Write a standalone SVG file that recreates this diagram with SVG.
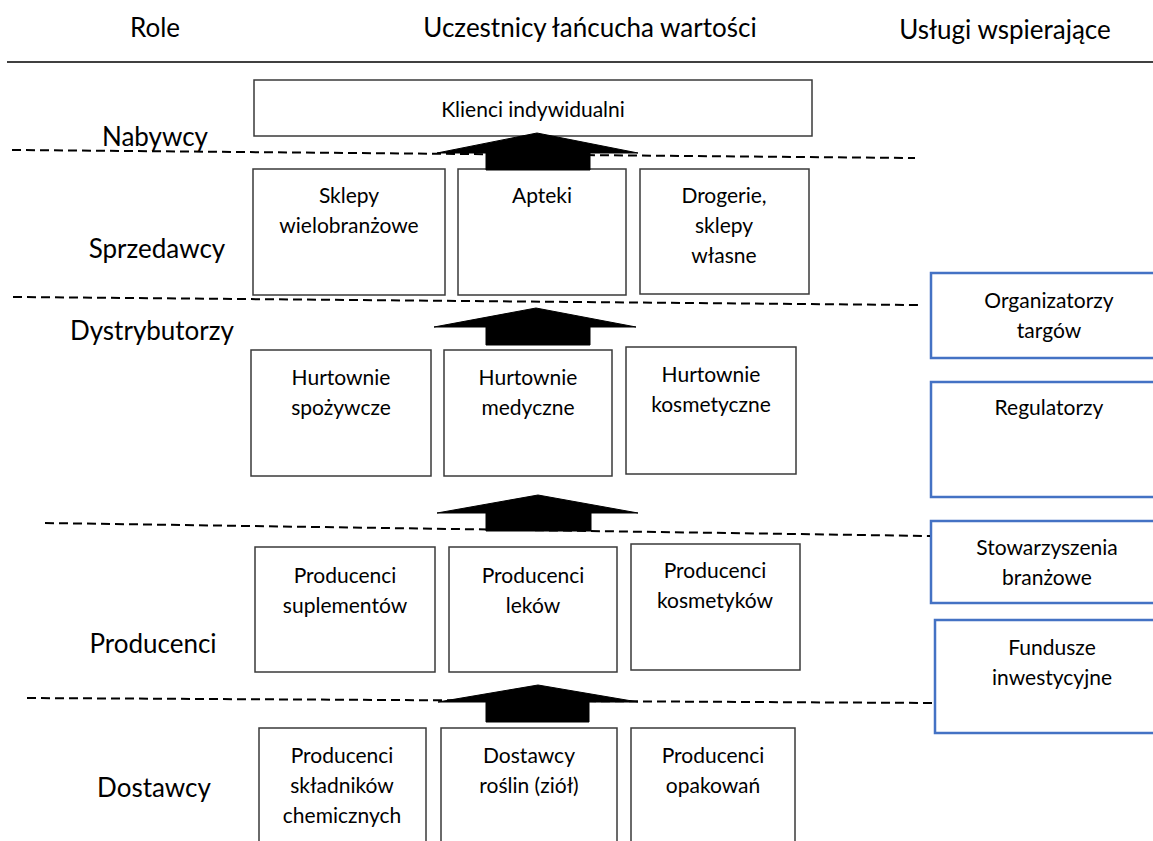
<svg xmlns="http://www.w3.org/2000/svg" width="1153" height="841" viewBox="0 0 1153 841">
<style>
text{font-family:Lato,"Open Sans","Liberation Sans",sans-serif;fill:#000;text-anchor:middle}
.h{font-size:26px}
.r{font-size:26px}
.t{font-size:21px}
.box{fill:#fff;stroke:#3a3a3a;stroke-width:1.5}
.sbox{fill:#fff;stroke:#4472C4;stroke-width:2.5}
.dash{stroke:#000;stroke-width:2;stroke-dasharray:9 5;fill:none}
.arrow{fill:#000;stroke:#000;stroke-width:1}
</style>
<rect width="1153" height="841" fill="#fff"/>
<g id="headers">
<text class="h" x="155" y="37">Role</text>
<text class="h" x="590" y="37">Uczestnicy łańcucha wartości</text>
<text class="h" x="1005" y="39">Usługi wspierające</text>
<line x1="7" y1="62" x2="1153" y2="62" stroke="#000" stroke-width="1.5"/>
</g>
<g id="roles">
<text class="r" x="155" y="146">Nabywcy</text>
<text class="r" x="157" y="258">Sprzedawcy</text>
<text class="r" x="152" y="340">Dystrybutorzy</text>
<text class="r" x="153" y="653">Producenci</text>
<text class="r" x="154" y="797">Dostawcy</text>
</g>
<g id="node-klienci"><rect class="box" x="254" y="80" width="558" height="56"/><text class="t" x="533" y="117">Klienci indywidualni</text></g>
<g id="node-sklepy"><rect class="box" x="253" y="169" width="192" height="126"/><text class="t" x="349" y="203">Sklepy</text><text class="t" x="349" y="233">wielobranżowe</text></g>
<g id="node-apteki"><rect class="box" x="458" y="169" width="168" height="126"/><text class="t" x="542" y="203">Apteki</text></g>
<g id="node-drogerie"><rect class="box" x="640" y="169" width="169" height="125"/><text class="t" x="724" y="203">Drogerie,</text><text class="t" x="724" y="233">sklepy</text><text class="t" x="724" y="263">własne</text></g>
<g id="node-hurt-spoz"><rect class="box" x="251" y="350" width="180" height="126"/><text class="t" x="341" y="385">Hurtownie</text><text class="t" x="341" y="415">spożywcze</text></g>
<g id="node-hurt-med"><rect class="box" x="444" y="350" width="168" height="126"/><text class="t" x="528" y="385">Hurtownie</text><text class="t" x="528" y="415">medyczne</text></g>
<g id="node-hurt-kos"><rect class="box" x="626" y="347" width="170" height="127"/><text class="t" x="711" y="382">Hurtownie</text><text class="t" x="711" y="412">kosmetyczne</text></g>
<g id="node-prod-supl"><rect class="box" x="255" y="547" width="180" height="125"/><text class="t" x="345" y="583">Producenci</text><text class="t" x="345" y="613">suplementów</text></g>
<g id="node-prod-lek"><rect class="box" x="449" y="547" width="168" height="125"/><text class="t" x="533" y="583">Producenci</text><text class="t" x="533" y="613">leków</text></g>
<g id="node-prod-kos"><rect class="box" x="631" y="544" width="169" height="126"/><text class="t" x="715" y="578">Producenci</text><text class="t" x="715" y="608">kosmetyków</text></g>
<g id="node-skladniki"><rect class="box" x="259" y="728" width="167" height="130"/><text class="t" x="342" y="763">Producenci</text><text class="t" x="342" y="793">składników</text><text class="t" x="342" y="823">chemicznych</text></g>
<g id="node-rosliny"><rect class="box" x="441" y="728" width="176" height="130"/><text class="t" x="529" y="763">Dostawcy</text><text class="t" x="529" y="793">roślin (ziół)</text></g>
<g id="node-opakowania"><rect class="box" x="631" y="728" width="164" height="130"/><text class="t" x="713" y="763">Producenci</text><text class="t" x="713" y="793">opakowań</text></g>
<g id="node-targi"><rect class="sbox" x="931" y="273" width="236" height="85"/><text class="t" x="1049" y="308">Organizatorzy</text><text class="t" x="1049" y="338">targów</text></g>
<g id="node-regulatorzy"><rect class="sbox" x="931" y="382" width="236" height="115"/><text class="t" x="1049" y="415">Regulatorzy</text></g>
<g id="node-stowarzyszenia"><rect class="sbox" x="931" y="521" width="236" height="82"/><text class="t" x="1047" y="555">Stowarzyszenia</text><text class="t" x="1047" y="585">branżowe</text></g>
<g id="node-fundusze"><rect class="sbox" x="935" y="620" width="236" height="113"/><text class="t" x="1052" y="655">Fundusze</text><text class="t" x="1052" y="685">inwestycyjne</text></g>
<g id="connectors">
<line class="dash" x1="12" y1="150" x2="915" y2="158"/>
<line class="dash" x1="13" y1="297" x2="918" y2="305"/>
<line class="dash" x1="45" y1="523" x2="930" y2="536"/>
<line class="dash" x1="27" y1="698" x2="933" y2="703"/>
<polygon class="arrow" points="537,133 638,153 590,153 590,170 486,170 486,153 437,153"/>
<polygon class="arrow" points="536,308 636,327 590,327 590,345 486,345 486,327 434,327"/>
<polygon class="arrow" points="538,495 638,513 591,513 591,531 486,531 486,513 437,513"/>
<polygon class="arrow" points="538,685 638,702 589,702 589,722 486,722 486,702 438,702"/>
</g>
</svg>
